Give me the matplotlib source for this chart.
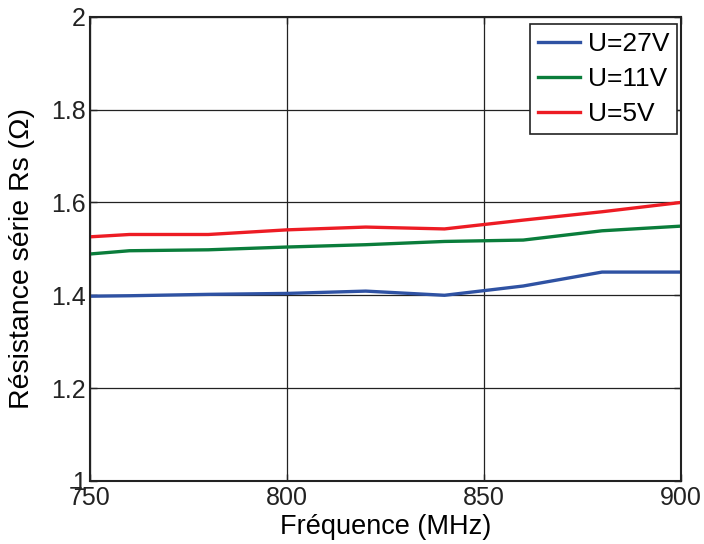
import matplotlib.pyplot as plt

plt.rcParams["font.family"] = ["Liberation Sans", "DejaVu Sans"]

# fréquence (MHz)
freq = [750, 760, 780, 800, 820, 840, 860, 880, 900]

# résistance série Rs (ohm) par tension
rs_27v = [1.398, 1.399, 1.402, 1.404, 1.409, 1.400, 1.420, 1.450, 1.450]
rs_11v = [1.489, 1.496, 1.498, 1.504, 1.509, 1.516, 1.519, 1.539, 1.549]
rs_5v = [1.526, 1.531, 1.531, 1.541, 1.547, 1.543, 1.562, 1.580, 1.600]

labels = ["U=27V", "U=11V", "U=5V"]
colors = ["#2f52a3", "#0a7d3b", "#ed1c24"]

x_ticks = [750, 800, 850, 900]
y_ticks = [1, 1.2, 1.4, 1.6, 1.8, 2]
y_ticklabels = ["1", "1.2", "1.4", "1.6", "1.8", "2"]

fig = plt.figure(figsize=(7.04, 5.44), dpi=100)
ax = fig.add_axes([0.128, 0.116, 0.839, 0.853])

for y, lab, c in zip([rs_27v, rs_11v, rs_5v], labels, colors):
    ax.plot(freq, y, color=c, lw=2.4, label=lab)

ax.set_xlim(750, 900)
ax.set_ylim(1, 2)
ax.set_xticks(x_ticks)
ax.set_yticks(y_ticks)
ax.set_yticklabels(y_ticklabels)
ax.tick_params(direction="in", top=True, right=True, labelsize=18,
               length=5, width=1, colors="#222222")
ax.tick_params(axis="x", pad=4)
ax.tick_params(axis="y", pad=3)
ax.grid(True, color="#222222", linestyle="-", lw=0.9)
for s in ax.spines.values():
    s.set_color("#222222")
    s.set_linewidth(1.5)

ax.set_xlabel("Fréquence (MHz)", fontsize=19.5)
ax.xaxis.set_label_coords(0.5, -0.072)
ax.set_ylabel("Résistance série Rs (Ω)", fontsize=20.5)
ax.yaxis.set_label_coords(-0.093, 0.48)

leg = ax.legend(loc="upper right", bbox_to_anchor=(0.994, 0.985),
                fontsize=19, frameon=True, fancybox=False,
                framealpha=1, edgecolor="#222222", handlelength=1.6,
                handletextpad=0.3, borderpad=0.3, labelspacing=0.42,
                borderaxespad=0)
leg.get_frame().set_linewidth(1.2)

fig.savefig("out.png", dpi=100)
